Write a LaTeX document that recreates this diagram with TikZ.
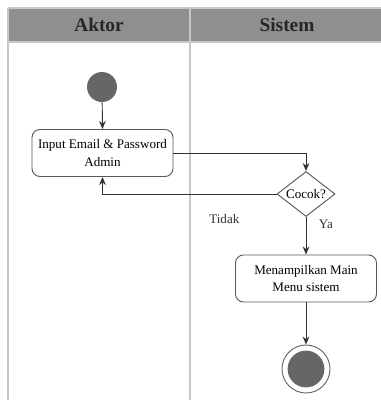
\documentclass[tikz,border=0pt]{standalone}
\usepackage{fontspec}
\setmainfont{Liberation Serif}
\usepackage{tikz}
\usetikzlibrary{positioning, arrows.meta, shapes.geometric}
\definecolor{headgray}{RGB}{143,143,143}
\definecolor{dotgray}{RGB}{102,102,102}
\definecolor{rulegray}{RGB}{200,200,200}
\tikzset{
  lanerule/.style = {draw=rulegray, line width=0.9pt},
  lanehead/.style = {font=\fontsize{14.5}{16}\selectfont\bfseries, text=black!85},
  actbox/.style   = {draw=black!65, line width=0.7pt, rounded corners=6pt,
                     minimum width=105.75pt, minimum height=35.25pt,
                     align=center, font=\fontsize{9.8}{13}\selectfont},
  decbox/.style   = {draw=black!65, line width=0.7pt, diamond, aspect=1.3,
                     inner sep=0pt, minimum width=43.5pt, minimum height=33.75pt,
                     font=\fontsize{9.8}{11}\selectfont},
  startdot/.style = {circle, fill=dotgray, minimum size=22.5pt, inner sep=0pt},
  enddot/.style   = {circle, draw=black!60, line width=0.7pt, fill=white,
                     minimum size=36pt, inner sep=0pt,
                     path picture={\fill[dotgray] (path picture bounding box.center) circle (13.8pt);}},
  flow/.style     = {-{Stealth[length=6pt, width=5pt]}, line width=0.7pt, black!80},
  lbl/.style      = {font=\fontsize{9.8}{11}\selectfont}
}
\begin{document}
\begin{tikzpicture}[x=0.75pt, y=-0.75pt]
  \useasboundingbox (0,0) rectangle (380,400);
  % Swimlanes
  \fill[headgray] (8,8) rectangle (381,42);
  \draw[lanerule] (8,8) -- (381,8);
  \draw[lanerule] (8,42) -- (381,42);
  \draw[lanerule] (8,8) -- (8,401);
  \draw[lanerule] (190,8) -- (190,401);
  \node[lanehead] (akt) at (99,25) {Aktor};
  \node[lanehead] (sis) at (287,25) {Sistem};

  % Nodes
  \node[startdot] (start) at (102,87) {};
  \node[actbox] (login) at (102.5,153) {Input Email \& Password\\Admin};
  \node[decbox] (cek) at (306,194) {Cocok?};
  \node[actbox] (menu) at (306,278.5) {Menampilkan Main\\Menu sistem};
  \node[enddot] (stop) at (306,369) {};

  % Arrows
  \draw[flow] (start) -- (login.north);
  \draw[flow] (login.east) -| (cek.north);
  \draw[flow] (cek.west) -| (login.south)
    node[lbl, pos=0.15, below=12pt] {Tidak};
  \draw[flow] (cek.south) -- (menu.north)
    node[lbl, pos=0.2, right=6pt] {Ya};
  \draw[flow] (menu.south) -- (stop.north);
\end{tikzpicture}
\end{document}
